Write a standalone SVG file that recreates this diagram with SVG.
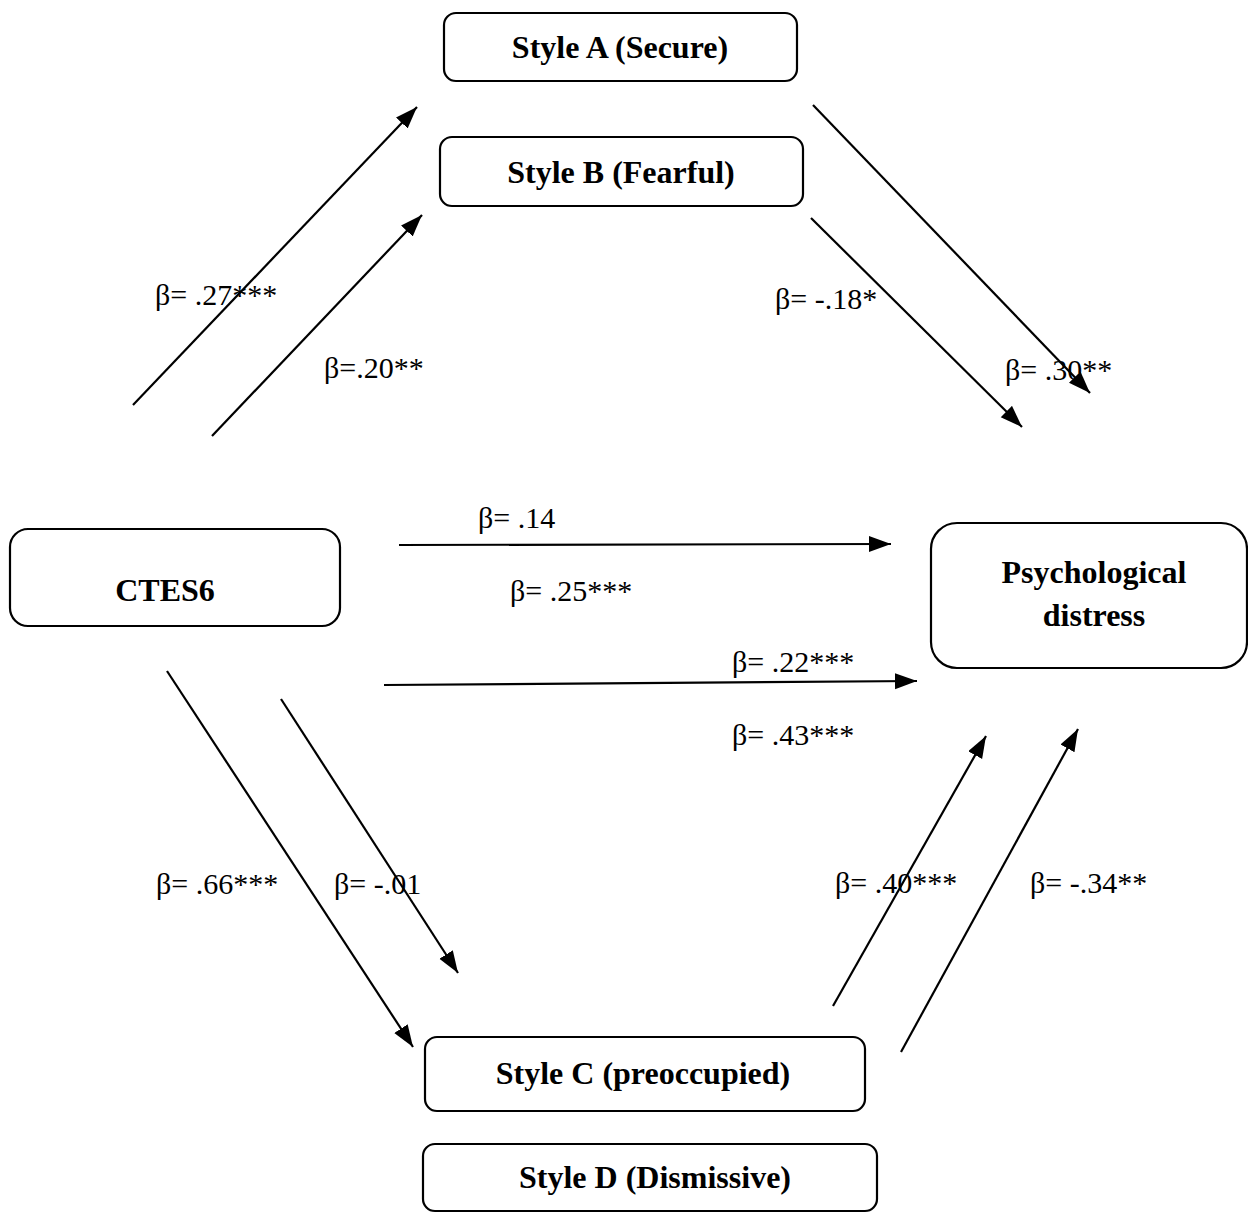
<svg xmlns="http://www.w3.org/2000/svg" width="1248" height="1213" viewBox="0 0 1248 1213">
<style>
.box{fill:#fff;stroke:#000;stroke-width:2.2}
.nt{font-family:"Liberation Serif","Times New Roman",serif;font-weight:bold;font-size:32px;text-anchor:middle;fill:#000}
.lb{font-family:"Liberation Serif","Times New Roman",serif;font-size:30px;fill:#000}
.ar{stroke:#000;stroke-width:2.2;fill:none;marker-end:url(#ah)}
</style>
<defs>
<marker id="ah" markerUnits="userSpaceOnUse" markerWidth="24" markerHeight="18" refX="22" refY="8" orient="auto">
<path d="M0,0 L22,8 L0,16 z" fill="#000"/>
</marker>
</defs>
<rect width="1248" height="1213" fill="#fff"/>
<g id="connectors">
<line class="ar" x1="133" y1="405" x2="417" y2="107"/>
<line class="ar" x1="212" y1="436" x2="422" y2="215"/>
<line class="ar" x1="813" y1="105" x2="1090" y2="393"/>
<line class="ar" x1="811" y1="218" x2="1022" y2="427"/>
<line class="ar" x1="399" y1="545" x2="891" y2="544"/>
<line class="ar" x1="384" y1="685" x2="917" y2="681"/>
<line class="ar" x1="167" y1="671" x2="413" y2="1047"/>
<line class="ar" x1="281" y1="699" x2="458" y2="973"/>
<line class="ar" x1="833" y1="1006" x2="986" y2="736"/>
<line class="ar" x1="901" y1="1052" x2="1078" y2="729"/>
</g>
<g id="labels">
<text class="lb" x="155" y="305">β= .27***</text>
<text class="lb" x="324" y="378">β=.20**</text>
<text class="lb" x="775" y="309">β= -.18*</text>
<text class="lb" x="1005" y="380">β= .30**</text>
<text class="lb" x="478" y="528">β= .14</text>
<text class="lb" x="510" y="601">β= .25***</text>
<text class="lb" x="732" y="672">β= .22***</text>
<text class="lb" x="732" y="745">β= .43***</text>
<text class="lb" x="156" y="894">β= .66***</text>
<text class="lb" x="334" y="894">β= -.01</text>
<text class="lb" x="835" y="893">β= .40***</text>
<text class="lb" x="1030" y="893">β= -.34**</text>
</g>
<g id="styleA">
<rect class="box" x="444" y="13" width="353" height="68" rx="12"/>
<text class="nt" x="620" y="58">Style A (Secure)</text>
</g>
<g id="styleB">
<rect class="box" x="440" y="137" width="363" height="69" rx="12"/>
<text class="nt" x="621" y="183">Style B (Fearful)</text>
</g>
<g id="ctes6">
<rect class="box" x="10" y="529" width="330" height="97" rx="18"/>
<text class="nt" x="165" y="601">CTES6</text>
</g>
<g id="psych">
<rect class="box" x="931" y="523" width="316" height="145" rx="26"/>
<text class="nt" x="1094" y="583">Psychological</text>
<text class="nt" x="1094" y="626">distress</text>
</g>
<g id="styleC">
<rect class="box" x="425" y="1037" width="440" height="74" rx="12"/>
<text class="nt" x="643" y="1084">Style C (preoccupied)</text>
</g>
<g id="styleD">
<rect class="box" x="423" y="1144" width="454" height="67" rx="12"/>
<text class="nt" x="655" y="1188">Style D (Dismissive)</text>
</g>
</svg>
